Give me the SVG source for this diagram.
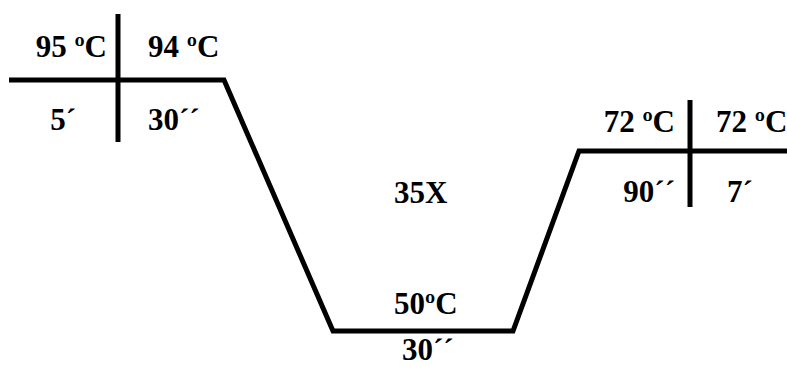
<svg xmlns="http://www.w3.org/2000/svg" width="787" height="368" viewBox="0 0 787 368">
<style>
.t{font-family:"Liberation Serif","Times New Roman",serif;font-weight:bold;font-size:31px;fill:#000}
.l{fill:none;stroke:#000;stroke-width:5;stroke-linejoin:miter}
</style>
<rect width="787" height="368" fill="#fff"/>
<g id="connectors">
<path class="l" d="M9 80 H224 L333 331 H513 L579 151 H787"/>
<path class="l" d="M118 14 V142"/>
<path class="l" d="M690 100 V207"/>
</g>
<g id="denat-initial"><text class="t" x="107" y="57" text-anchor="end">95 ºC</text><text class="t" x="76" y="130" text-anchor="end">5´</text></g>
<g id="denat"><text class="t" x="148" y="57">94 ºC</text><text class="t" x="148" y="130">30´´</text></g>
<g id="cycles"><text class="t" x="394" y="203">35X</text></g>
<g id="anneal"><text class="t" x="394" y="314">50ºC</text><text class="t" x="402" y="360">30´´</text></g>
<g id="extend"><text class="t" x="675" y="132" text-anchor="end">72 ºC</text><text class="t" x="675" y="202" text-anchor="end">90´´</text></g>
<g id="final-extend"><text class="t" x="716" y="132">72 ºC</text><text class="t" x="727" y="202">7´</text></g>
</svg>
